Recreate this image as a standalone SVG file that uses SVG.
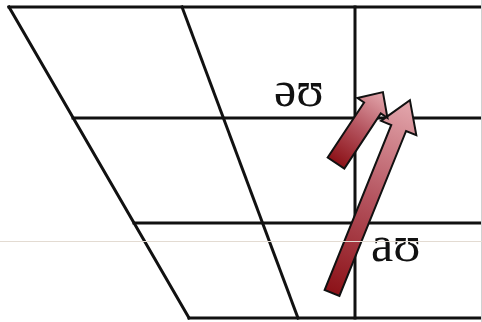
<svg xmlns="http://www.w3.org/2000/svg" width="482" height="322" viewBox="0 0 482 322">
  <style>
    .grid { stroke: #111; stroke-width: 3; fill: none; stroke-linecap: square; }
    .arrow { stroke: #111; stroke-width: 2; stroke-linejoin: miter; fill: url(#arrowGrad); }
    .label { font-family: "Liberation Serif", "DejaVu Serif", serif; font-size: 50px; fill: #111; }
  </style>
  <defs>
    <linearGradient id="arrowGrad" x1="0" y1="0" x2="1" y2="0">
      <stop offset="0" stop-color="#8c1218"/>
      <stop offset="0.5" stop-color="#b55560"/>
      <stop offset="1" stop-color="#e4a8ae"/>
    </linearGradient>
  </defs>
  <rect width="482" height="322" fill="#fff"/>
  <g id="grid">
    <line class="grid" x1="9" y1="7" x2="482" y2="7"/>
    <line class="grid" x1="73" y1="118" x2="482" y2="118"/>
    <line class="grid" x1="134" y1="223" x2="482" y2="223"/>
    <line class="grid" x1="189" y1="318" x2="482" y2="318"/>
    <line class="grid" x1="9" y1="7" x2="189" y2="318"/>
    <line class="grid" x1="182" y1="7" x2="298" y2="318"/>
    <line class="grid" x1="355" y1="7" x2="355" y2="318"/>
    <line x1="481.5" y1="0" x2="481.5" y2="322" stroke="#d0d0d0" stroke-width="1"/>
  </g>
  <g id="connectors">
    <path id="arrow-au" class="arrow" transform="translate(332,293) rotate(-68)" d="M0,-8 L178,-8 L178,-19 L208,0 L178,19 L178,8 L0,8 Z"/>
    <path id="arrow-schwa" class="arrow" transform="translate(336,163) rotate(-56.5)" d="M0,-10 L66,-10 L66,-18 L85,0 L66,18 L66,10 L0,10 Z"/>
  </g>
  <g id="label-schwa-u">
    <text class="label" x="274" y="106">əʊ</text>
  </g>
  <g id="label-a-u">
    <text class="label" x="371" y="261">aʊ</text>
  </g>
  <line x1="0" y1="241.5" x2="482" y2="241.5" stroke="#e3dbd2" stroke-width="1"/>
</svg>
